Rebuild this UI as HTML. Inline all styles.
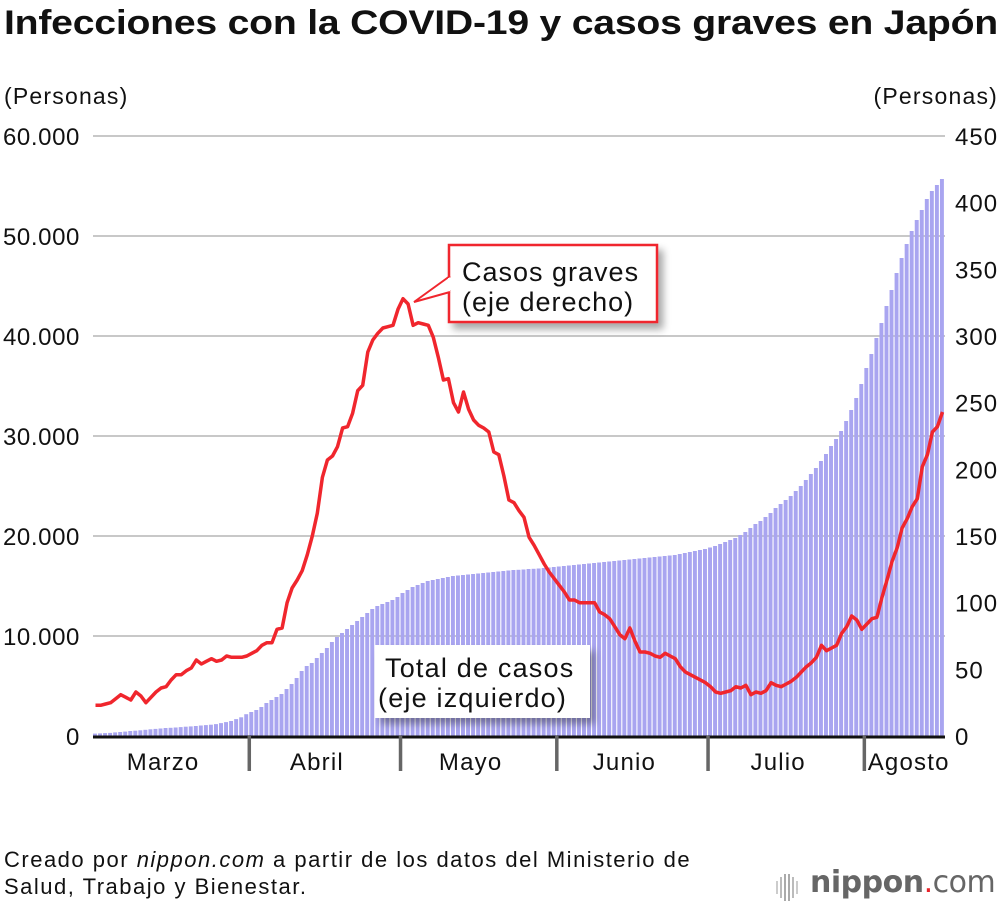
<!DOCTYPE html>
<html><head><meta charset="utf-8">
<style>
html,body{margin:0;padding:0;background:#fff;}
body{width:1000px;height:910px;position:relative;overflow:hidden;font-family:"Liberation Sans",Arial,sans-serif;color:#111;}
.abs{position:absolute;}
</style></head>
<body>
<div class="abs" style="left:4px;top:4px;font-size:34px;font-weight:bold;letter-spacing:-0.2px;white-space:nowrap;transform-origin:0 0;transform:scaleX(1.152);">Infecciones con la COVID-19 y casos graves en Japón</div>
<svg id="chart" class="abs" style="left:0;top:0" width="1000" height="910" xmlns="http://www.w3.org/2000/svg"></svg>
<div class="abs" style="left:4px;top:846px;font-size:22px;line-height:27px;letter-spacing:1.5px;white-space:nowrap;">Creado por <i>nippon.com</i> a partir de los datos del Ministerio de<br>Salud, Trabajo y Bienestar.</div>
<div class="abs" style="left:774px;top:866px;height:36px;width:226px;">
  <svg width="30" height="30" style="position:absolute;left:0;top:6px">
    <rect x="2" y="9" width="2" height="13" fill="#ccc"/><rect x="6" y="5" width="2" height="21" fill="#bbb"/><rect x="10" y="2" width="2" height="27" fill="#aaa"/><rect x="14" y="2" width="2" height="27" fill="#aaa"/><rect x="18" y="5" width="2" height="21" fill="#bbb"/><rect x="22" y="9" width="2" height="13" fill="#ccc"/>
  </svg>
  <span style="position:absolute;left:36px;top:-1px;font-family:'DejaVu Sans',sans-serif;font-size:30px;color:#666;letter-spacing:-0.5px;white-space:nowrap;"><b>nippon</b><span style="color:#e8232a">.</span>com</span>
</div>
<script>
const cases=[0.24,0.26,0.29,0.31,0.36,0.40,0.44,0.50,0.53,0.57,0.62,0.67,0.71,0.75,0.80,0.82,0.85,0.89,0.93,0.96,1.00,1.05,1.09,1.13,1.19,1.29,1.39,1.50,1.69,1.87,2.18,
2.4,2.6,2.9,3.3,3.6,3.9,4.2,4.7,5.2,5.8,6.5,7.0,7.3,7.8,8.3,8.8,9.4,9.9,10.3,10.7,11.1,11.5,11.9,12.3,12.7,13.0,13.2,13.4,13.6,13.9,
14.3,14.6,14.9,15.1,15.3,15.5,15.6,15.7,15.8,15.9,16.0,16.05,16.1,16.15,16.2,16.25,16.3,16.35,16.4,16.45,16.5,16.55,16.6,16.62,16.65,16.7,16.72,16.75,16.8,16.85,16.9,
16.95,17.0,17.05,17.1,17.15,17.2,17.25,17.3,17.35,17.4,17.45,17.5,17.55,17.6,17.65,17.7,17.75,17.8,17.85,17.9,17.95,18.0,18.05,18.1,18.2,18.3,18.4,18.5,18.6,18.7,
18.85,19.0,19.2,19.4,19.6,19.8,20.1,20.4,20.8,21.2,21.5,21.9,22.3,22.8,23.2,23.6,24.0,24.5,25.0,25.6,26.2,26.8,27.5,28.2,29.0,29.7,30.5,31.5,32.6,33.8,35.2,
36.8,38.2,39.8,41.3,43.0,44.6,46.3,47.8,49.2,50.5,51.6,52.6,53.7,54.5,55.1,55.7];
const severe=[23,23,24,25,28,31,29,27,33,30,25,29,33,36,37,42,46,46,49,51,57,54,56,58,56,57,60,59,59,59,60,
62,64,68,70,70,80,81,100,111,117,124,136,150,167,194,207,210,217,231,232,242,259,263,288,297,302,306,307,308,320,
328,324,308,310,309,308,299,284,267,268,250,243,258,245,237,233,231,228,213,211,195,177,175,169,164,149,143,136,129,123,118,
113,108,102,102,100,100,100,100,93,91,88,82,76,73,81,71,63,63,62,60,59,62,60,58,52,48,46,44,42,40,
37,33,32,33,34,37,36,38,31,33,32,34,40,38,37,39,41,44,48,52,55,59,68,64,66,68,77,82,90,87,80,
84,88,89,104,117,131,141,156,163,172,178,202,211,228,232,243];
const leftTicks=[0,10000,20000,30000,40000,50000,60000];
const leftLabels=["0","10.000","20.000","30.000","40.000","50.000","60.000"];
const rightTicks=[0,50,100,150,200,250,300,350,400,450];
const months=["Marzo","Abril","Mayo","Junio","Julio","Agosto"];
const monthStarts=[0,31,61,92,122,153];
const totalDays=169;

const NS="http://www.w3.org/2000/svg";
const svg=document.getElementById('chart');
const X0=93,X1=945,Y0=736,Y1=136;
const dw=(X1-X0)/totalDays;
const xDay=d=>X0+d*dw;
const yL=v=>Y0-(v/60000)*(Y0-Y1);
const yR=v=>Y0-(v/450)*(Y0-Y1);
function mk(tag,attrs,parent){const e=document.createElementNS(NS,tag);for(const k in attrs)e.setAttribute(k,attrs[k]);(parent||svg).appendChild(e);return e;}

const grid=mk('g',{});


leftTicks.forEach((t,i)=>{
  if(t>0){const l=mk('line',{x1:X0,x2:X1,y1:yL(t),y2:yL(t),stroke:'#c8c8c8','stroke-width':2},grid);
  
  }
  const tx=mk('text',{x:80,y:yL(t)+9,'text-anchor':'end','font-size':24,'letter-spacing':0.6,fill:'#111'});
  
  
  tx.textContent=leftLabels[i];
});
rightTicks.forEach(t=>{
  const tx=mk('text',{x:955,y:yR(t)+9,'text-anchor':'start','font-size':24,'letter-spacing':1,fill:'#111'});
  
  
  tx.textContent=String(t);
});
const lt=mk('text',{x:4,y:104,'font-size':23,'letter-spacing':1.2,fill:'#111'});


lt.textContent='(Personas)';
const rt=mk('text',{x:998,y:104,'text-anchor':'end','font-size':23,'letter-spacing':1.2,fill:'#111'});


rt.textContent='(Personas)';

const bars=mk('g',{});


cases.forEach((v,i)=>{
  const y=yL(v*1000);
  const r=mk('rect',{x:xDay(i),y:y,width:dw-1.1,height:Y0-y,fill:'#a9a5f0'},bars);
  
  
});

const ax=mk('line',{x1:X0,x2:X1,y1:Y0+1,y2:Y0+1,stroke:'#111','stroke-width':3});


monthStarts.forEach((s,i)=>{
  if(i>0){const t=mk('line',{x1:xDay(s),x2:xDay(s),y1:Y0,y2:771,stroke:'#666','stroke-width':3.5});
  
  }
  const e=i<months.length-1?monthStarts[i+1]:totalDays;
  const tx=mk('text',{x:(xDay(s)+xDay(e))/2+(i==5?4:-8),y:770,'text-anchor':'middle','font-size':24,'letter-spacing':1.2,fill:'#111'});
  
  
  tx.textContent=months[i];
});

let d='';
severe.forEach((v,i)=>{d+=(i?'L':'M')+(xDay(i)+dw/2).toFixed(1)+' '+yR(v).toFixed(1);});
const line=mk('path',{d:d,fill:'none',stroke:'#f0262d','stroke-width':3.5,'stroke-linejoin':'round'});



const defs=mk('defs',{});
defs.innerHTML='<filter id="sh" x="-20%" y="-20%" width="150%" height="160%"><feGaussianBlur in="SourceAlpha" stdDeviation="4"/><feOffset dx="5" dy="6"/><feComponentTransfer><feFuncA type="linear" slope="0.35"/></feComponentTransfer><feMerge><feMergeNode/><feMergeNode in="SourceGraphic"/></feMerge></filter>';
const c1=mk('g',{});


mk('rect',{x:449,y:245,width:208,height:77,fill:'#fff',stroke:'#f0262d','stroke-width':2.5,filter:'url(#sh)'},c1);
mk('path',{d:'M450 276 L414 302 L450 292',fill:'#fff',stroke:'#f0262d','stroke-width':2},c1);
mk('rect',{x:448,y:278,width:4,height:12,fill:'#fff'},c1);
const t1=mk('text',{x:462,y:281,'font-size':27,'letter-spacing':1,fill:'#111'},c1);t1.textContent='Casos graves';
const t2=mk('text',{x:462,y:311,'font-size':27,'letter-spacing':1,fill:'#111'},c1);t2.textContent='(eje derecho)';
const c2=mk('g',{});


mk('rect',{x:375,y:645,width:215,height:73,fill:'#fff',filter:'url(#sh)'},c2);
const t3=mk('text',{x:385,y:677,'font-size':27,'letter-spacing':1.2,fill:'#111'},c2);t3.textContent='Total de casos';
const t4=mk('text',{x:378,y:707,'font-size':27,'letter-spacing':1.2,fill:'#111'},c2);t4.textContent='(eje izquierdo)';
</script>
</body></html>
